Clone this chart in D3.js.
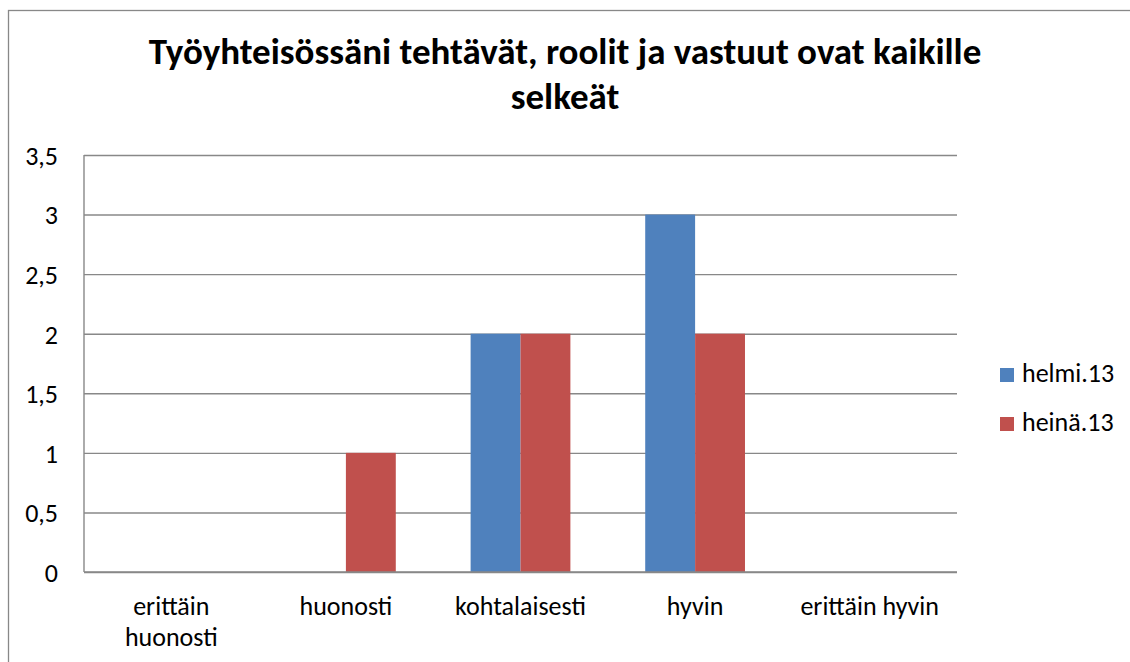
<!DOCTYPE html>
<html>
    <head>
        <meta charset="utf-8">
        <script src="https://d3js.org/d3.v7.min.js"></script>
        <style>
            body{ margin:0; background:#fff; }
            svg{ display:block; font-family: Carlito, Lato, "Open Sans", sans-serif; }
        </style>
    </head>
    <body>
        <svg id="svg" width="1130" height="662"></svg>
        <script>
            // data
            var categories = ["erittäin huonosti", "huonosti", "kohtalaisesti", "hyvin", "erittäin hyvin"];
            var seriesNames = ["helmi.13", "heinä.13"];
            var helmi = [0, 0, 2, 3, 0];
            var heina = [0, 1, 2, 2, 0];
            var yTicks = [0, 0.5, 1, 1.5, 2, 2.5, 3, 3.5];
            var titleLines = ["Työyhteisössäni tehtävät, roolit ja vastuut ovat kaikille", "selkeät"];
            var colors = ["#4F81BD", "#C0504D"];

            var svg = d3.select("svg");
            var pLeft = 84, pRight = 957, pTop = 155, pBottom = 572;

            var x = d3.scaleBand().domain(categories).range([pLeft, pRight]);
            var xs = d3.scaleBand().domain(seriesNames).range([0, x.bandwidth()]).paddingOuter(0.75);
            var y = d3.scaleLinear().domain([0, 3.5]).range([pBottom, pTop]);
            var fi = d3.formatLocale({decimal: ",", thousands: " ", grouping: [3], currency: ["", "€"]});
            var fmt = fi.format(".1~f");

            // chart border
            svg.append("rect").attr("x", 8.5).attr("y", 10.5).attr("width", 1200).attr("height", 700)
                .attr("fill", "none").attr("stroke", "#888").attr("stroke-width", 1.3);

            // title
            svg.append("g").selectAll("text").data(titleLines).enter().append("text")
                .attr("x", 565).attr("y", function(d, i){ return 64 + i*45; })
                .attr("text-anchor", "middle").attr("font-weight", "bold").attr("font-size", 37)
                .attr("fill", "#000").text(function(d){ return d; });

            // gridlines + y labels
            var yAxis = d3.axisLeft(y).tickValues(yTicks).tickSize(-(pRight-pLeft)).tickPadding(26).tickFormat(fmt);
            var ga = svg.append("g").attr("transform", "translate(" + pLeft + ",0)").call(yAxis);
            ga.select(".domain").remove();
            ga.selectAll(".tick line").attr("stroke", "#888").attr("stroke-width", 1.4);
            ga.selectAll(".tick text").attr("font-size", 26).attr("fill", "#000")
                .attr("font-family", "Carlito, Lato, sans-serif").attr("dy", "0.36em");

            // y axis line
            svg.append("line").attr("x1", pLeft).attr("x2", pLeft).attr("y1", pTop).attr("y2", pBottom)
                .attr("stroke", "#888").attr("stroke-width", 1.4);

            // bars
            var rows = categories.map(function(c, i){ return {cat: c, vals: [helmi[i], heina[i]]}; });
            var grp = svg.append("g").selectAll("g").data(rows).enter().append("g")
                .attr("transform", function(d){ return "translate(" + x(d.cat) + ",0)"; });
            grp.selectAll("rect").data(function(d){ return d.vals.map(function(v, j){ return {s: seriesNames[j], v: v, c: colors[j]}; }); })
                .enter().append("rect")
                .attr("x", function(d){ return xs(d.s); })
                .attr("width", xs.bandwidth())
                .attr("y", function(d){ return y(d.v); })
                .attr("height", function(d){ return y(0) - y(d.v); })
                .attr("fill", function(d){ return d.c; });

            // x axis line
            svg.append("line").attr("x1", pLeft).attr("x2", pRight).attr("y1", pBottom).attr("y2", pBottom)
                .attr("stroke", "#888").attr("stroke-width", 1.4);

            // x labels, wrapped
            var xl = svg.append("g").selectAll("text").data(categories).enter().append("text")
                .attr("x", function(d){ return x(d) + x.bandwidth()/2; })
                .attr("y", 615).attr("text-anchor", "middle").attr("font-size", 26).attr("fill", "#000");
            xl.each(function(d){
                var t = d3.select(this), words = d.split(" "), line = [];
                var ts = t.append("tspan").attr("x", t.attr("x")).attr("dy", 0);
                words.forEach(function(w){
                    line.push(w);
                    ts.text(line.join(" "));
                    if (ts.node().getComputedTextLength() > 145 && line.length > 1) {
                        line.pop(); ts.text(line.join(" "));
                        line = [w];
                        ts = t.append("tspan").attr("x", t.attr("x")).attr("dy", 31).text(w);
                    }
                });
            });

            // legend
            var lg = svg.append("g").selectAll("g").data(seriesNames).enter().append("g")
                .attr("transform", function(d, i){ return "translate(1000," + (368 + i*49) + ")"; });
            lg.append("rect").attr("width", 14).attr("height", 14).attr("fill", function(d, i){ return colors[i]; });
            lg.append("text").attr("x", 22).attr("y", 14).attr("font-size", 26).attr("fill", "#000")
                .text(function(d){ return d; });
        </script>
    </body>
</html>
